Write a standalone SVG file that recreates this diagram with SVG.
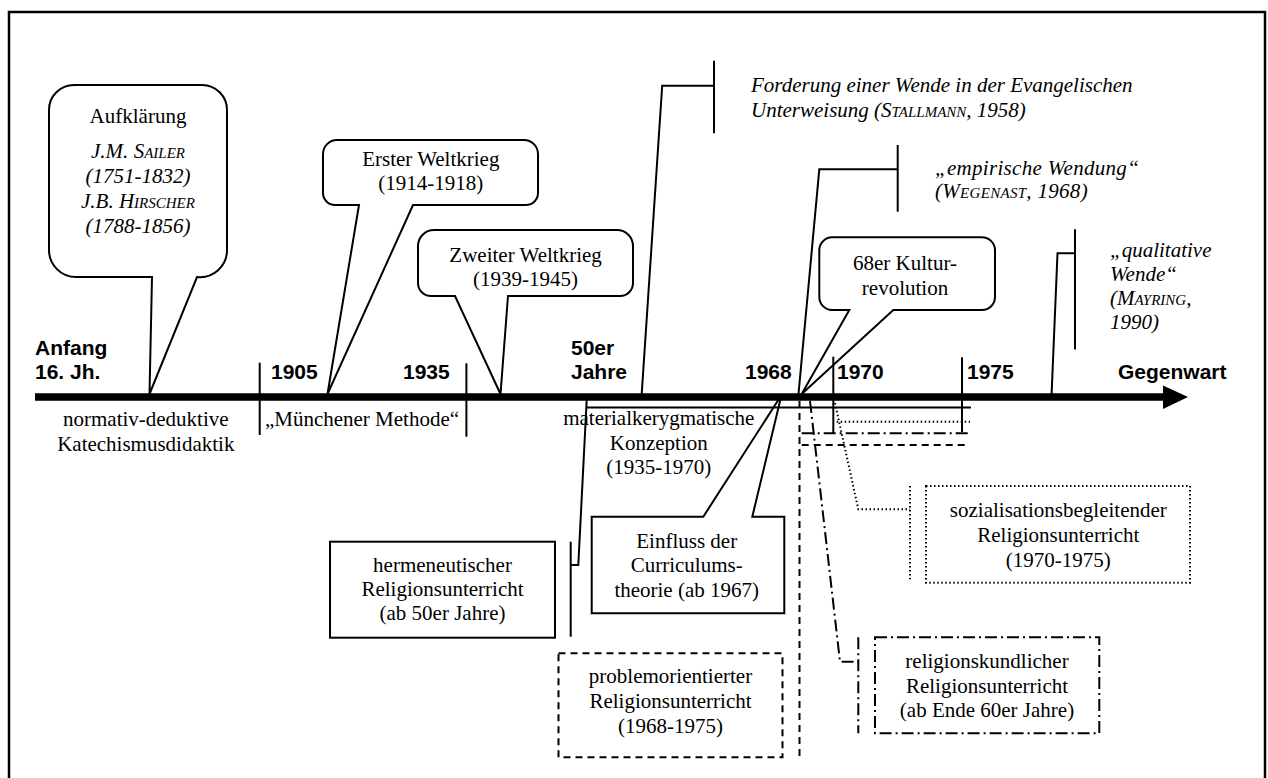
<svg xmlns="http://www.w3.org/2000/svg" width="1268" height="778" viewBox="0 0 1268 778">
<style>
.s{font-family:"Liberation Serif","Times New Roman",serif;font-size:21px;fill:#000}
.i{font-style:italic}
.b{font-family:"Liberation Sans",Arial,sans-serif;font-size:21px;font-weight:bold;fill:#000}
.sc{font-variant:small-caps}
.ln{fill:none;stroke:#000;stroke-width:2}
.box{fill:none;stroke:#000;stroke-width:2}
.dash{stroke-dasharray:7 5}
.dd{stroke-dasharray:12 4 2 4}
.dot{stroke-dasharray:1.5 2.5}
</style>
<rect x="0" y="0" width="1268" height="778" fill="#fff"/>
<rect x="9" y="12" width="1256" height="800" fill="none" stroke="#000" stroke-width="2.5"/>

<g id="axis">
<line x1="35" y1="397" x2="1166" y2="397" stroke="#000" stroke-width="7.5"/>
<polygon points="1163,385.5 1188,397 1163,409" fill="#000"/>
<text class="b" x="35" y="355">Anfang</text>
<text class="b" x="35" y="379.3">16. Jh.</text>
<text class="b" x="271" y="379.3">1905</text>
<text class="b" x="403" y="379.3">1935</text>
<text class="b" x="571" y="355">50er</text>
<text class="b" x="571" y="379.3">Jahre</text>
<text class="b" x="745" y="379.3">1968</text>
<text class="b" x="837" y="379.3">1970</text>
<text class="b" x="967" y="379.3">1975</text>
<text class="b" x="1118" y="379.3">Gegenwart</text>
</g>

<g id="connectors">
<line class="ln" x1="259.7" y1="362.7" x2="259.7" y2="435"/>
<line class="ln" x1="466.4" y1="363.3" x2="466.4" y2="436.7"/>
<line class="ln" x1="833.3" y1="356.7" x2="833.3" y2="433.3"/>
<line class="ln" x1="962" y1="357.3" x2="962" y2="432"/>
<line class="ln" x1="586.7" y1="407.6" x2="971" y2="407.6"/>
<polyline class="ln" points="586.7,400 578.3,565 570.7,565"/>
<line class="ln" x1="570.7" y1="541.7" x2="570.7" y2="636.7"/>
<polyline class="ln" points="641.7,394 662.2,85.7 714,85.7"/>
<line class="ln" x1="714" y1="60.7" x2="714" y2="133.3"/>
<polyline class="ln" points="798.5,394 819.3,169.3 897.7,169.3"/>
<line class="ln" x1="897.7" y1="145" x2="897.7" y2="211.7"/>
<polyline class="ln" points="1051.6,394 1057.5,253.3 1075,253.3"/>
<line class="ln" x1="1075" y1="229.3" x2="1075" y2="349.5"/>
<polyline class="ln dot" points="836.7,421.7 970,421.7"/>
<polyline class="ln dot" points="835,403 858.3,509.3 910,509.3"/>
<line class="ln dot" x1="910" y1="486" x2="910" y2="579.3"/>
<line class="ln dd" x1="801.7" y1="433.3" x2="967.7" y2="433.3"/>
<polyline class="ln dd" points="810,401 840,661.7 858.3,661.7"/>
<line class="ln dd" x1="858.3" y1="637.3" x2="858.3" y2="733.3"/>
<line class="ln dash" x1="801.7" y1="445" x2="967" y2="445"/>
<line class="ln dash" x1="799.5" y1="401" x2="799.5" y2="757.3"/>
</g>

<g id="aufklaerung">
<path class="box" d="M74,85 H202 A25,25 0 0 1 227,110 V250 A27,27 0 0 1 197,277 L149.5,394 L152,277 H76 A27,27 0 0 1 49,250 V110 A25,25 0 0 1 74,85 Z"/>
<text class="s" x="138" y="122.7" text-anchor="middle">Aufklärung</text>
<text class="s i" x="138" y="158.3" text-anchor="middle">J.M. <tspan class="sc">Sailer</tspan></text>
<text class="s i" x="138" y="182.7" text-anchor="middle">(1751-1832)</text>
<text class="s i" x="138" y="208.3" text-anchor="middle">J.B. <tspan class="sc">Hirscher</tspan></text>
<text class="s i" x="138" y="232.7" text-anchor="middle">(1788-1856)</text>
</g>

<g id="erster-weltkrieg">
<path class="box" d="M337,140 H524 A14,14 0 0 1 538,154 V193 A12,12 0 0 1 526,205 H413 L327.5,394 L359,205 H335 A12,12 0 0 1 323,193 V154 A14,14 0 0 1 337,140 Z"/>
<text class="s" x="430.8" y="166" text-anchor="middle">Erster Weltkrieg</text>
<text class="s" x="430.8" y="190" text-anchor="middle">(1914-1918)</text>
</g>

<g id="zweiter-weltkrieg">
<path class="box" d="M434,230 H617 A16,16 0 0 1 633,246 V283 A13,13 0 0 1 620,296 H508 L500.5,394 L455,296 H431 A13,13 0 0 1 418,283 V246 A16,16 0 0 1 434,230 Z"/>
<text class="s" x="525.6" y="261.7" text-anchor="middle">Zweiter Weltkrieg</text>
<text class="s" x="525.6" y="285.7" text-anchor="middle">(1939-1945)</text>
</g>

<g id="forderung">
<text class="s i" x="751" y="91.7">Forderung einer Wende in der Evangelischen</text>
<text class="s i" x="751" y="116.7">Unterweisung (<tspan class="sc">Stallmann</tspan>, 1958)</text>
</g>

<g id="empirische-wendung">
<text class="s i" x="935" y="175" letter-spacing="0.3">„empirische Wendung“</text>
<text class="s i" x="935" y="198.3" letter-spacing="0.3">(<tspan class="sc">Wegenast</tspan>, 1968)</text>
</g>

<g id="kulturrevolution">
<path class="box" d="M832,237.3 H982 A13,13 0 0 1 995,250.3 V297 A13,13 0 0 1 982,310 H893.3 L801.7,394 L849.3,310 H832 A13,13 0 0 1 819.3,297 V250.3 A13,13 0 0 1 832,237.3 Z"/>
<text class="s" x="905" y="270" text-anchor="middle">68er Kultur-</text>
<text class="s" x="905" y="295" text-anchor="middle">revolution</text>
</g>

<g id="qualitative-wende">
<text class="s i" x="1110" y="256.7">„qualitative</text>
<text class="s i" x="1110" y="281">Wende“</text>
<text class="s i" x="1110" y="305">(<tspan class="sc">Mayring</tspan>,</text>
<text class="s i" x="1110" y="329.3">1990)</text>
</g>

<g id="katechismusdidaktik">
<text class="s" x="145.8" y="426" text-anchor="middle">normativ-deduktive</text>
<text class="s" x="145.8" y="450.7" text-anchor="middle">Katechismusdidaktik</text>
</g>

<g id="muenchener-methode">
<text class="s" x="362" y="425.5" text-anchor="middle">„Münchener Methode“</text>
</g>

<g id="materialkerygmatisch">
<text class="s" x="658.8" y="425" text-anchor="middle">materialkerygmatische</text>
<text class="s" x="658.8" y="450" text-anchor="middle">Konzeption</text>
<text class="s" x="658.8" y="474" text-anchor="middle">(1935-1970)</text>
</g>

<g id="hermeneutisch">
<rect class="box" x="330" y="541.7" width="225" height="96"/>
<text class="s" x="442.5" y="571.7" text-anchor="middle">hermeneutischer</text>
<text class="s" x="442.5" y="596" text-anchor="middle">Religionsunterricht</text>
<text class="s" x="442.5" y="620" text-anchor="middle">(ab 50er Jahre)</text>
</g>

<g id="curriculumstheorie">
<path class="box" d="M591.7,516.7 H703.3 L781.5,395 L752.3,516.7 H784.3 V613.3 H591.7 Z"/>
<text class="s" x="686.7" y="547.7" text-anchor="middle">Einfluss der</text>
<text class="s" x="686.7" y="572.3" text-anchor="middle">Curriculums-</text>
<text class="s" x="686.7" y="596.7" text-anchor="middle">theorie (ab 1967)</text>
</g>

<g id="problemorientiert">
<rect class="box dash" x="558.5" y="653.3" width="224" height="104"/>
<text class="s" x="670.5" y="683.3" text-anchor="middle">problemorientierter</text>
<text class="s" x="670.5" y="708" text-anchor="middle">Religionsunterricht</text>
<text class="s" x="670.5" y="733" text-anchor="middle">(1968-1975)</text>
</g>

<g id="sozialisationsbegleitend">
<rect class="box dot" x="926" y="486" width="264" height="96.7"/>
<text class="s" x="1058.3" y="516.7" text-anchor="middle">sozialisationsbegleitender</text>
<text class="s" x="1058.3" y="541.7" text-anchor="middle">Religionsunterricht</text>
<text class="s" x="1058.3" y="566.7" text-anchor="middle">(1970-1975)</text>
</g>

<g id="religionskundlich">
<rect class="box dd" x="875" y="637.3" width="224.3" height="96"/>
<text class="s" x="987" y="668.3" text-anchor="middle">religionskundlicher</text>
<text class="s" x="987" y="692.7" text-anchor="middle">Religionsunterricht</text>
<text class="s" x="987" y="716.7" text-anchor="middle">(ab Ende 60er Jahre)</text>
</g>
</svg>
